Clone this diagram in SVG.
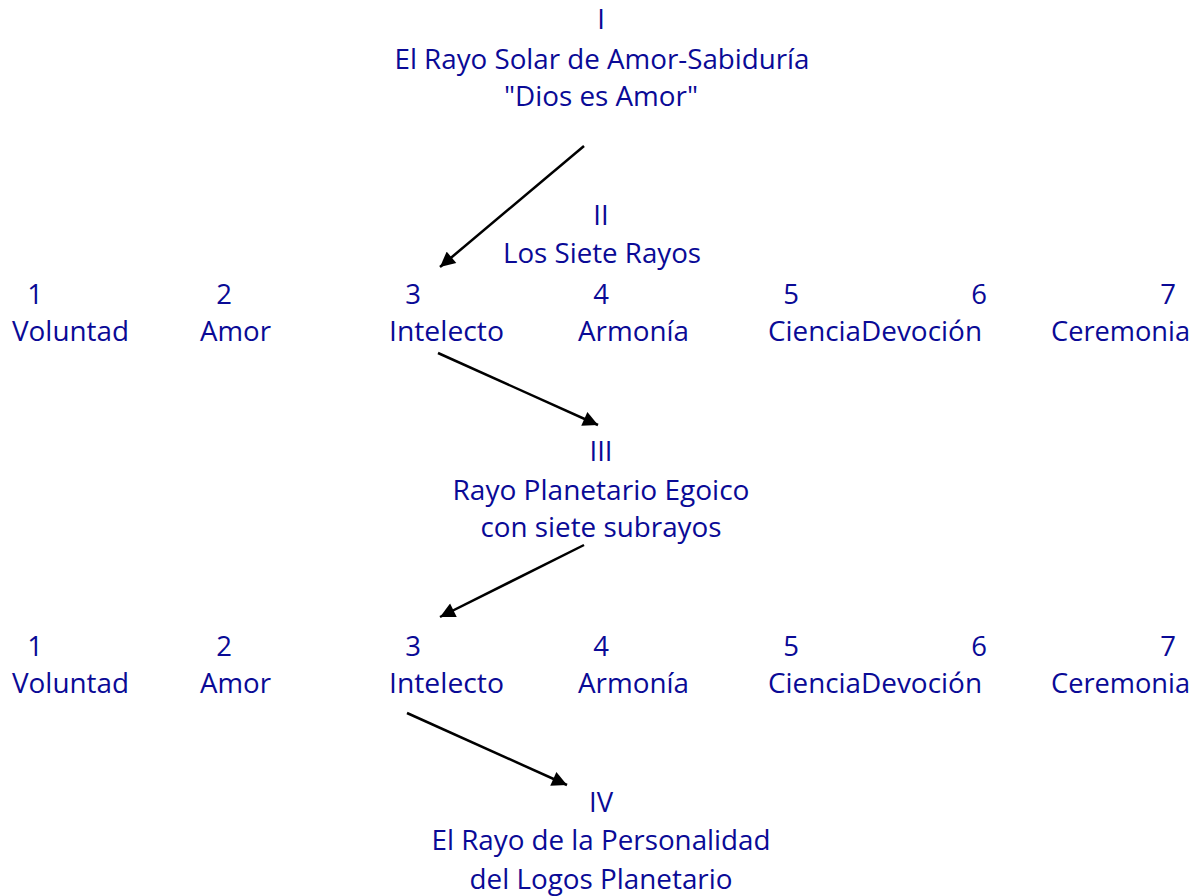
<svg xmlns="http://www.w3.org/2000/svg" width="1200" height="896" viewBox="0 0 1200 896">
<style>
text{font-family:"Open Sans","Liberation Sans",sans-serif;font-size:27.5px;fill:#0a0a96}
.c{text-anchor:middle}
.conn line{stroke:#000;stroke-width:2.5}
</style>
<defs>
<marker id="ah" viewBox="0 0 10 10" refX="10" refY="5" markerWidth="6.5" markerHeight="6" markerUnits="strokeWidth" orient="auto">
<path d="M0,0 L10,5 L0,10 Z" fill="#000"/>
</marker>
</defs>
<rect width="1200" height="896" fill="#fff"/>
<g id="node-I">
<text class="c" x="601" y="29">I</text>
<text class="c" x="602" y="69" textLength="415" lengthAdjust="spacingAndGlyphs">El Rayo Solar de Amor-Sabiduría</text>
<text class="c" x="601" y="106" textLength="194" lengthAdjust="spacingAndGlyphs">"Dios es Amor"</text>
</g>
<g id="node-II">
<text class="c" x="601" y="225">II</text>
<text class="c" x="602" y="263" textLength="198" lengthAdjust="spacingAndGlyphs">Los Siete Rayos</text>
</g>
<g id="row-1">
<text class="c" x="35" y="304">1</text>
<text class="c" x="224" y="304">2</text>
<text class="c" x="413" y="304">3</text>
<text class="c" x="601" y="304">4</text>
<text class="c" x="791" y="304">5</text>
<text class="c" x="979" y="304">6</text>
<text class="c" x="1168" y="304">7</text>
<text x="12" y="341" textLength="117" lengthAdjust="spacingAndGlyphs">Voluntad</text>
<text x="200" y="341" textLength="71" lengthAdjust="spacingAndGlyphs">Amor</text>
<text x="389" y="341" textLength="115" lengthAdjust="spacingAndGlyphs">Intelecto</text>
<text x="578" y="341" textLength="111" lengthAdjust="spacingAndGlyphs">Armonía</text>
<text x="768" y="341" textLength="93" lengthAdjust="spacingAndGlyphs">Ciencia</text>
<text x="861" y="341" textLength="121" lengthAdjust="spacingAndGlyphs">Devoción</text>
<text x="1051" y="341" textLength="139" lengthAdjust="spacingAndGlyphs">Ceremonia</text>
</g>
<g id="node-III">
<text class="c" x="601" y="461">III</text>
<text class="c" x="601" y="500" textLength="297" lengthAdjust="spacingAndGlyphs">Rayo Planetario Egoico</text>
<text class="c" x="601" y="537" textLength="241" lengthAdjust="spacingAndGlyphs">con siete subrayos</text>
</g>
<g id="row-2">
<text class="c" x="35" y="656">1</text>
<text class="c" x="224" y="656">2</text>
<text class="c" x="413" y="656">3</text>
<text class="c" x="601" y="656">4</text>
<text class="c" x="791" y="656">5</text>
<text class="c" x="979" y="656">6</text>
<text class="c" x="1168" y="656">7</text>
<text x="12" y="693" textLength="117" lengthAdjust="spacingAndGlyphs">Voluntad</text>
<text x="200" y="693" textLength="71" lengthAdjust="spacingAndGlyphs">Amor</text>
<text x="389" y="693" textLength="115" lengthAdjust="spacingAndGlyphs">Intelecto</text>
<text x="578" y="693" textLength="111" lengthAdjust="spacingAndGlyphs">Armonía</text>
<text x="768" y="693" textLength="93" lengthAdjust="spacingAndGlyphs">Ciencia</text>
<text x="861" y="693" textLength="121" lengthAdjust="spacingAndGlyphs">Devoción</text>
<text x="1051" y="693" textLength="139" lengthAdjust="spacingAndGlyphs">Ceremonia</text>
</g>
<g id="node-IV">
<text class="c" x="601" y="812">IV</text>
<text class="c" x="601" y="850" textLength="339" lengthAdjust="spacingAndGlyphs">El Rayo de la Personalidad</text>
<text class="c" x="601" y="889" textLength="263" lengthAdjust="spacingAndGlyphs">del Logos Planetario</text>
</g>
<g id="connectors" class="conn">
<line x1="584" y1="146" x2="440" y2="267" marker-end="url(#ah)"/>
<line x1="438" y1="353" x2="598" y2="425" marker-end="url(#ah)"/>
<line x1="584" y1="545" x2="440" y2="617" marker-end="url(#ah)"/>
<line x1="407" y1="713" x2="567" y2="785" marker-end="url(#ah)"/>
</g>
</svg>
